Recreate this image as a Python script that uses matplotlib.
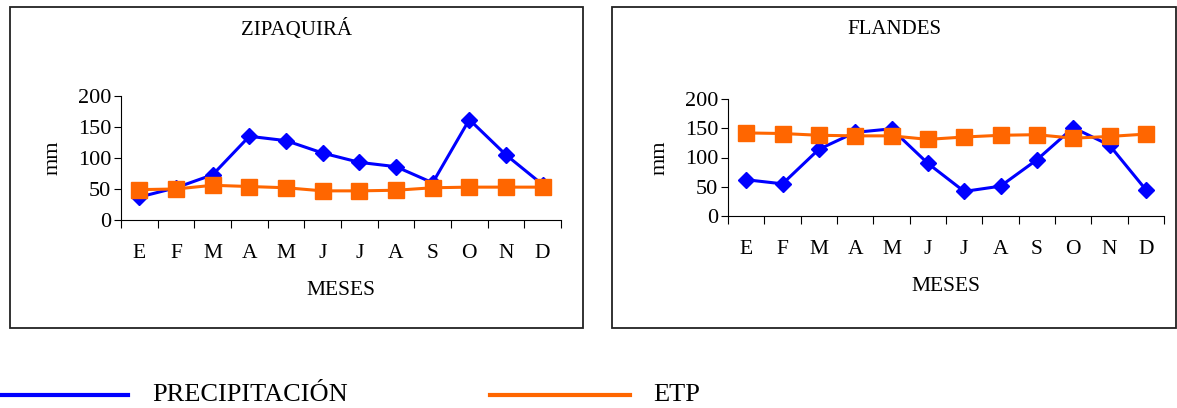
import matplotlib
matplotlib.use("Agg")
import matplotlib.pyplot as plt
from matplotlib.patches import Rectangle
from matplotlib.lines import Line2D

plt.rcParams['font.family'] = ['Liberation Serif', 'DejaVu Serif']

# datos
meses = ['E', 'F', 'M', 'A', 'M', 'J', 'J', 'A', 'S', 'O', 'N', 'D']
zipa_prec = [37, 52, 73, 135, 128, 108, 93, 86, 60, 162, 105, 57]
zipa_etp = [49, 50, 56, 54, 52, 47, 47, 48, 52, 53, 53, 53]
flan_prec = [62, 55, 114, 143, 149, 90, 42, 51, 96, 151, 121, 45]
flan_etp = [142, 141, 138, 137, 137, 131, 135, 138, 139, 133, 136, 140]

azul = '#0000FF'
naranja = '#FF6600'
W, H = 1177, 408

fig = plt.figure(figsize=(W / 100, H / 100), dpi=100)


def caja(x0, y0, x1, y1):
    r = Rectangle((x0 / W, 1 - y1 / H), (x1 - x0) / W, (y1 - y0) / H,
                  transform=fig.transFigure, fill=False, ec='#222222', lw=1.3)
    fig.add_artist(r)


def grafico(rect, prec, etp, titulo, tx):
    ax = fig.add_axes(rect)
    x = list(range(1, 13))
    ax.plot(x, prec, color=azul, lw=2.2, marker='D', ms=8, zorder=3)
    ax.plot(x, etp, color=naranja, lw=2.2, marker='s', ms=11, zorder=4)
    ax.set_xlim(0.5, 12.5)
    ax.set_ylim(0, 200)
    ax.set_yticks([0, 50, 100, 150, 200])
    ax.set_xticks([i + 0.5 for i in range(0, 13)])
    ax.set_xticklabels([])
    ax.set_xticks(x, minor=True)
    ax.set_xticklabels(meses, minor=True)
    ax.tick_params(axis='x', which='minor', length=0, pad=17, labelsize=15.5)
    ax.tick_params(axis='x', which='major', length=6, direction='out')
    ax.tick_params(axis='y', length=5, direction='out', labelsize=16, pad=2)
    for s in ['top', 'right']:
        ax.spines[s].set_visible(False)
    ax.set_xlabel('MESES', fontsize=15.5, labelpad=13)
    ax.set_ylabel('mm', fontsize=16, labelpad=11)
    fig.text(tx / W, 1 - 30 / H, titulo, ha='center', va='center', fontsize=15)
    return ax


caja(10, 7, 583, 328)
caja(612, 7, 1176, 328)

grafico([121 / W, 1 - 220 / H, (561 - 121) / W, (220 - 96) / H],
        zipa_prec, zipa_etp, 'ZIPAQUIRÁ', 296)
grafico([728 / W, 1 - 216 / H, (1164 - 728) / W, (216 - 99) / H],
        flan_prec, flan_etp, 'FLANDES', 894)

# leyenda
yl = 1 - 395 / H
fig.add_artist(Line2D([0 / W, 128 / W], [yl, yl], color=azul, lw=3, transform=fig.transFigure))
fig.text(152 / W, yl, 'PRECIPITACIÓN', va='center', ha='left', fontsize=19)
fig.add_artist(Line2D([490 / W, 630 / W], [yl, yl], color=naranja, lw=3, transform=fig.transFigure))
fig.text(653 / W, yl, 'ETP', va='center', ha='left', fontsize=19)

fig.savefig('out.png', dpi=100)
